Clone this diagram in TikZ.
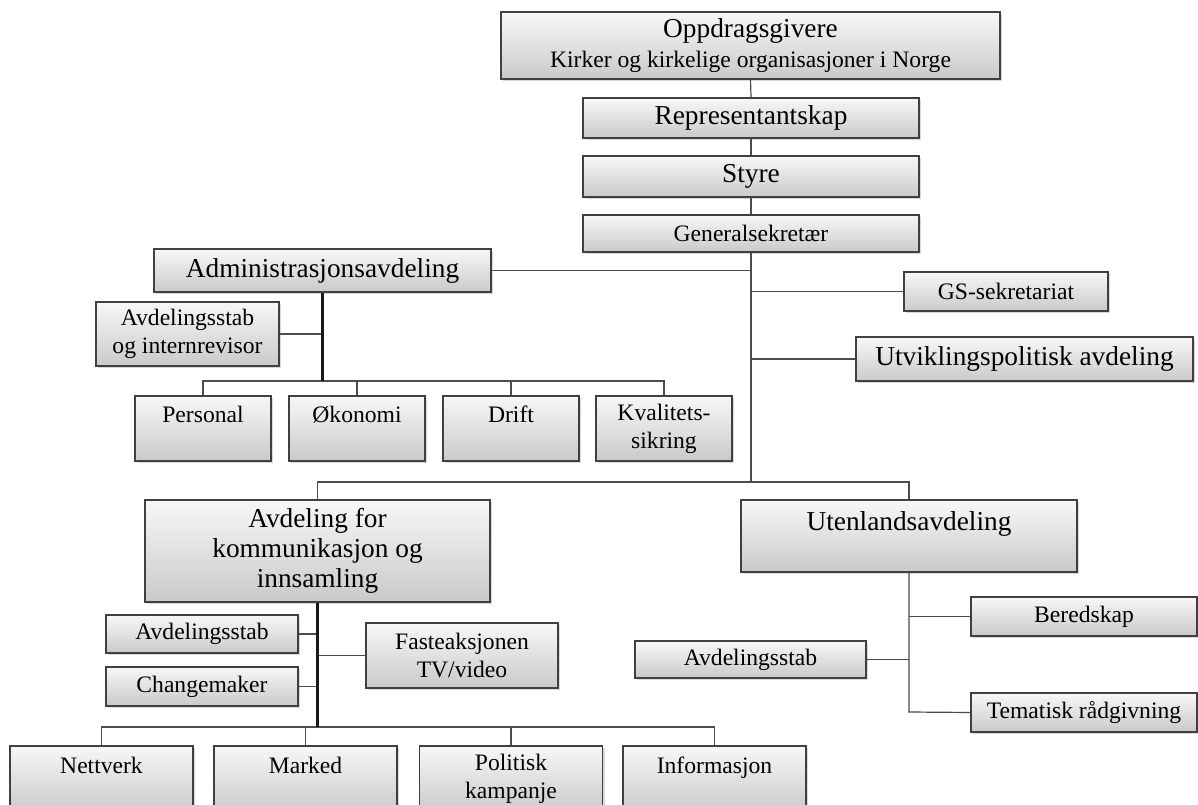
\documentclass[tikz,border=0pt]{standalone}
\usepackage{fontspec}
\setmainfont{Liberation Serif}
\usetikzlibrary{shadows}

\newcommand{\bigtxt}{\fontsize{20.5}{22.5}\selectfont}
\newcommand{\smalltxt}{\fontsize{17.7}{21}\selectfont}

\tikzset{
  box/.style 2 args={draw=black!75, line width=0.8pt,
    top color=gray!6, bottom color=gray!42,
    drop shadow={opacity=0.3, shadow xshift=1.5pt, shadow yshift=-1.5pt},
    inner sep=0pt, align=center, font=\smalltxt,
    minimum width=#1*0.75pt, minimum height=#2*0.75pt},
  bigbox/.style 2 args={box={#1}{#2}, font=\bigtxt},
  conn/.style={draw=black!70, line width=0.9pt},
  trunk/.style={draw=black!90, line width=1.6pt},
}

\begin{document}
\begin{tikzpicture}[x=0.75pt, y=-0.75pt]
\useasboundingbox (0,0) rectangle (1198,805);
\clip (0,0) rectangle (1198,805);

% top of the hierarchy
\node[box={499}{67}] (opp) at (750.5,45.5)
  {{\bigtxt Oppdragsgivere}\\[1pt] Kirker og kirkelige organisasjoner i Norge};
\node[bigbox={336}{40}] (rep) at (751,118) {Representantskap};
\node[bigbox={336}{41}] (sty) at (751,176.5) {Styre};
\node[box={336}{37}] (gen) at (751,233.5) {Generalsekretær};

% administration
\node[bigbox={337}{43}] (adm) at (322.5,270.5) {Administrasjonsavdeling};
\node[box={183}{64}] (avi) at (187.5,334) {Avdelingsstab\\og internrevisor};
\node[box={136}{65}] (per) at (203,428.5) {Personal\\\phantom{X}};
\node[box={136}{65}] (oko) at (357,428.5) {Økonomi\\\phantom{X}};
\node[box={136}{65}] (dri) at (511,428.5) {Drift\\\phantom{X}};
\node[box={136}{65}] (kva) at (664,428.5) {Kvalitets-\\sikring};

% staff units under the secretary general
\node[box={204}{39}] (gss) at (1006,291.5) {GS-sekretariat};
\node[bigbox={337}{44}] (utv) at (1024.5,359) {Utviklingspolitisk avdeling};

% communication and fundraising
\node[bigbox={345}{102}] (kom) at (317.5,551) {Avdeling for\\kommunikasjon og\\innsamling};
\node[box={192}{38}] (as2) at (202,634) {Avdelingsstab};
\node[box={192}{39}] (chg) at (202,686.5) {Changemaker};
\node[box={192}{65}] (fas) at (462,655.5) {Fasteaksjonen\\TV/video};
\node[box={183}{66}] (net) at (101.5,779) {Nettverk\\\phantom{X}};
\node[box={183}{66}] (mar) at (305.5,779) {Marked\\\phantom{X}};
\node[box={183}{66}] (pol) at (511,779) {Politisk\\kampanje};
\node[box={183}{66}] (inf) at (714.5,779) {Informasjon\\\phantom{X}};

% international department
\node[bigbox={336}{72}] (ute) at (909,536) {Utenlandsavdeling\\\phantom{X}};
\node[box={226}{39}] (ber) at (1084,616.5) {Beredskap};
\node[box={231}{37}] (as3) at (750.5,659.5) {Avdelingsstab};
\node[box={226}{39}] (tem) at (1084,712.5) {Tematisk rådgivning};

% junction points
\coordinate (lbus) at (751,482);
\coordinate (abus) at (322.5,381);
\coordinate (kbus) at (317.5,727);
\coordinate (ubus) at (909,712);

% main chain
\draw[conn] (opp.south) -- (rep.north);
\draw[conn] (rep.south) -- (sty.north);
\draw[conn] (sty.south) -- (gen.north);
\draw[conn] (gen.south) -- (lbus);
\draw[conn] (adm.east) -- (adm.east -| lbus);
\draw[conn] (gss.west) -- (gss.west -| lbus);
\draw[conn] (utv.west) -- (utv.west -| lbus);
\draw[conn] (kom.north) |- (lbus) -| (ute.north);

% administration branches
\draw[conn] (avi.east) -- (avi.east -| abus);
\draw[conn] (per.north) |- (abus) -| (kva.north);
\draw[conn] (oko.north) -- (oko.north |- abus);
\draw[conn] (dri.north) -- (dri.north |- abus);
\draw[trunk] (adm.south) -- (abus);

% communication branches
\draw[conn] (as2.east) -- (as2.east -| kbus);
\draw[conn] (chg.east) -- (chg.east -| kbus);
\draw[conn] (fas.west) -- (fas.west -| kbus);
\draw[conn] (net.north) |- (kbus) -| (inf.north);
\draw[conn] (mar.north) -- (mar.north |- kbus);
\draw[conn] (pol.north) -- (pol.north |- kbus);
\draw[trunk] (kom.south) -- (kbus);

% international branches
\draw[conn] (ute.south) -- (ubus) -- (tem.west);
\draw[conn] (ber.west) -- (ber.west -| ubus);
\draw[conn] (as3.east) -- (as3.east -| ubus);
\end{tikzpicture}
\end{document}
